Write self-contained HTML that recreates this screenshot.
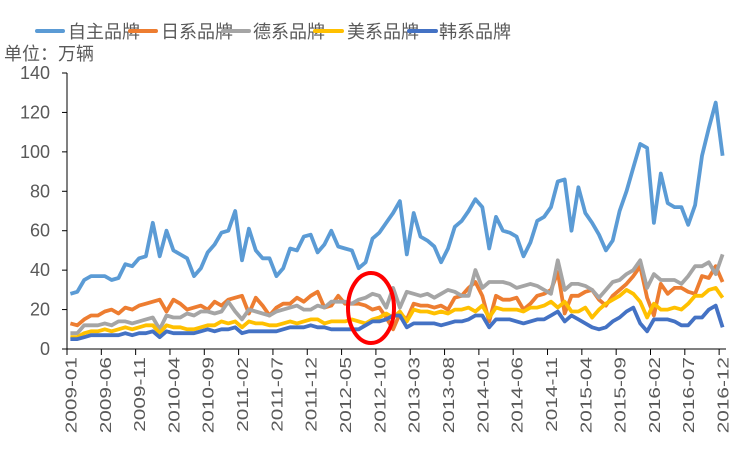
<!DOCTYPE html>
<html><head><meta charset="utf-8"><style>
body{margin:0;background:#fff;width:750px;height:450px;overflow:hidden}
text{font-family:"Liberation Sans","Noto Sans CJK SC",sans-serif;fill:#595959}
</style></head><body>
<svg id="s" width="750" height="450" xmlns="http://www.w3.org/2000/svg">
<g font-size="18">
<line x1="37" y1="31" x2="63" y2="31" stroke="#5B9BD5" stroke-width="4" stroke-linecap="round"/><text x="68" y="38">自主品牌</text>
<line x1="130" y1="31" x2="156" y2="31" stroke="#ED7D31" stroke-width="4" stroke-linecap="round"/><text x="161" y="38">日系品牌</text>
<line x1="223" y1="31" x2="249" y2="31" stroke="#A5A5A5" stroke-width="4" stroke-linecap="round"/><text x="253" y="38">德系品牌</text>
<line x1="315" y1="31" x2="342" y2="31" stroke="#FFC000" stroke-width="4" stroke-linecap="round"/><text x="347" y="38">美系品牌</text>
<line x1="409" y1="31" x2="436" y2="31" stroke="#4472C4" stroke-width="4" stroke-linecap="round"/><text x="439" y="38">韩系品牌</text>
<text x="4" y="60">单位：万辆</text>
</g>
<g id="ax"></g>
<g id="ser" fill="none" stroke-width="3.8" stroke-linejoin="round"></g>
<ellipse cx="371" cy="308" rx="23" ry="35" fill="none" stroke="#FF0000" stroke-width="4"/>
</svg>
<script>
var ns="http://www.w3.org/2000/svg";
function el(t,a,p,txt){var e=document.createElementNS(ns,t);for(var k in a)e.setAttribute(k,a[k]);if(txt!=null)e.textContent=txt;p.appendChild(e);return e;}
var ax=document.getElementById('ax'),ser=document.getElementById('ser');
var X0=67,X1=726,Y0=349,YT=73,dx=(X1-X0)/96;
function Y(v){return Y0-(Y0-YT)*v/140;}
el('line',{x1:X0,y1:YT,x2:X0,y2:Y0,stroke:'#000','stroke-width':1},ax);
el('line',{x1:X0,y1:Y0,x2:X1,y2:Y0,stroke:'#000','stroke-width':1},ax);
for(var v=0;v<=140;v+=20){var y=Y(v);el('line',{x1:X0-5,y1:y,x2:X0,y2:y,stroke:'#000'},ax);
el('text',{x:50,y:y+6,'text-anchor':'end','font-size':18},ax,String(v));}
for(var i=0;i<=96;i+=5){var x=X0+i*dx;el('line',{x1:x,y1:Y0,x2:x,y2:Y0+6,stroke:'#000'},ax);}
for(var i=0;i<96;i+=5){var x=X0+(i+0.5)*dx;var yr=2009+Math.floor(i/12),m=i%12+1;
el('text',{x:0,y:0,'text-anchor':'end','font-size':16,transform:'translate('+(x+6)+','+(Y0+8)+') rotate(-90) scale(1.3,1)'},ax,yr+'-'+(m<10?'0':'')+m);}
var D={
'#5B9BD5':[28,29,35,37,37,37,35,36,43,42,46,47,64,47,60,50,48,46,37,41,49,53,59,60,70,45,61,50,46,46,37,41,51,50,57,58,49,53,60,52,51,50,41,44,56,59,64,69,75,48,69,57,55,52,44,51,62,65,70,76,72,51,67,60,59,57,47,54,65,67,72,85,86,60,82,69,64,58,50,55,70,80,92,104,102,64,89,74,72,72,63,73,98,112,125,98],
'#ED7D31':[13,12,15,17,17,19,20,18,21,20,22,23,24,25,19,25,23,20,21,22,20,24,22,25,26,27,18,26,22,17,21,23,23,26,24,27,29,21,22,27,23,23,23,22,20,21,16,10,18,15,23,22,22,21,22,20,26,27,31,34,27,14,27,25,25,26,20,23,27,28,30,39,18,27,27,29,30,25,22,27,30,33,37,42,26,17,33,28,31,31,29,28,37,36,42,34],
'#A5A5A5':[8,8,12,12,12,13,12,14,14,13,14,15,16,10,17,16,16,18,17,19,19,18,19,24,19,15,20,19,18,17,19,20,21,22,20,20,22,21,24,24,24,23,25,26,28,27,21,31,21,29,28,27,28,26,28,30,29,27,27,40,31,34,34,34,33,31,32,33,32,30,28,45,30,33,33,32,30,26,30,34,35,38,40,45,31,38,35,35,35,33,37,42,42,44,38,48],
'#FFC000':[6,6,8,9,9,10,9,10,11,10,11,12,12,8,12,11,11,10,10,11,12,12,14,13,14,11,14,13,13,12,12,13,14,13,14,15,15,13,14,14,14,15,14,13,15,16,18,16,19,14,20,19,19,18,19,18,20,20,21,19,22,16,21,20,20,20,19,21,21,22,24,21,24,19,19,21,16,20,23,25,27,30,28,24,16,23,20,20,21,20,23,27,27,30,31,26],
'#4472C4':[5,5,6,7,7,7,7,7,8,7,8,8,9,6,9,8,8,8,8,9,10,9,10,10,11,8,9,9,9,9,9,10,11,11,11,12,11,11,10,10,10,10,10,12,14,14,15,17,17,11,13,13,13,13,12,13,14,14,15,17,17,11,15,15,15,14,13,14,15,15,17,19,14,17,15,13,11,10,11,14,16,19,21,13,9,15,15,15,14,12,12,16,16,20,22,11]};
['#5B9BD5','#ED7D31','#A5A5A5','#FFC000','#4472C4'].forEach(function(c){
var p=D[c].map(function(v,i){return (X0+(i+0.5)*dx).toFixed(1)+','+Y(v).toFixed(1);}).join(' ');
el('polyline',{points:p,stroke:c},ser);});
</script>
</body></html>
